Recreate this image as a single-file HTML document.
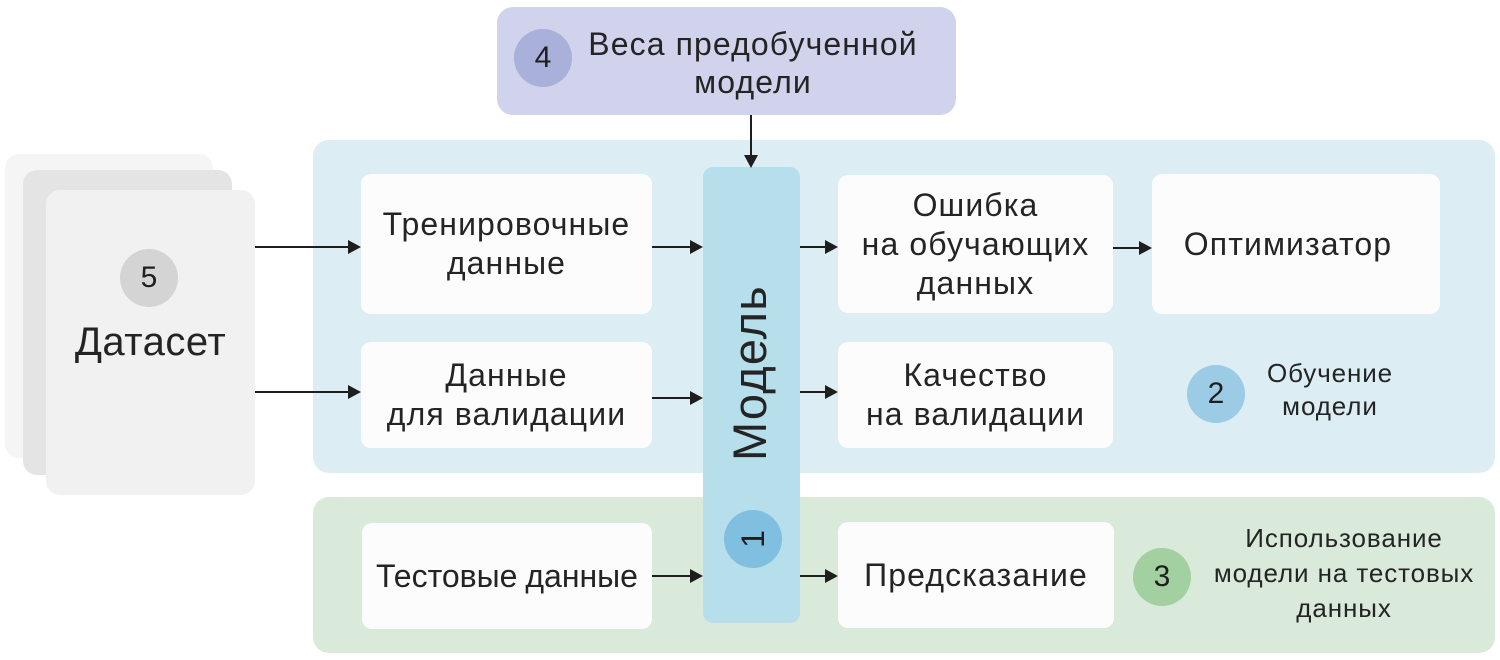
<!DOCTYPE html>
<html>
<head>
<meta charset="utf-8">
<style>
  html,body{margin:0;padding:0;}
  body{width:1500px;height:660px;background:#ffffff;position:relative;overflow:hidden;
       font-family:"Liberation Sans","Noto Sans CJK SC",sans-serif;color:#242424;}
  .abs{position:absolute;}
  .panel{position:absolute;border-radius:16px;}
  .box{position:absolute;background:#fcfcfc;border-radius:10px;display:flex;align-items:center;justify-content:center;
       text-align:center;font-size:32px;line-height:39px;letter-spacing:1.1px;}
  .circ{position:absolute;border-radius:50%;width:58px;height:58px;display:flex;align-items:center;justify-content:center;
        font-size:30px;color:#1e1e1e;}
  .card{position:absolute;border-radius:14px;}
  .lbl{position:absolute;text-align:center;font-size:26px;letter-spacing:0.9px;}
</style>
</head>
<body>

<!-- Dataset stack -->
<div class="card" style="left:5px;top:154px;width:208px;height:304px;background:#f5f5f5;"></div>
<div class="card" style="left:23px;top:170px;width:209px;height:305px;background:#e4e4e4;"></div>
<div class="card" style="left:46px;top:190px;width:209px;height:305px;background:#f1f1f1;"></div>
<div class="circ" style="left:120px;top:249px;background:#d4d4d4;">5</div>
<div class="abs" style="left:46px;top:318px;width:209px;text-align:center;font-size:40px;line-height:48px;letter-spacing:0.5px;">Датасет</div>

<!-- Weights box -->
<div class="panel" style="left:497px;top:7px;width:459px;height:108px;background:#d0d3eb;"></div>
<div class="circ" style="left:514px;top:29px;background:#a9b0da;">4</div>
<div class="abs" style="left:553px;top:25px;width:400px;text-align:center;font-size:32px;line-height:38px;letter-spacing:1.1px;">Веса предобученной<br>модели</div>

<!-- Blue panel -->
<div class="panel" style="left:313px;top:140px;width:1182px;height:333px;background:#dceef4;"></div>
<!-- Green panel -->
<div class="panel" style="left:313px;top:497px;width:1182px;height:156px;background:#d9e9da;"></div>

<!-- Boxes -->
<div class="box" style="left:361px;top:174px;width:291px;height:140px;">Тренировочные<br>данные</div>
<div class="box" style="left:361px;top:342px;width:291px;height:106px;">Данные<br>для валидации</div>
<div class="box" style="left:838px;top:175px;width:275px;height:138px;">Ошибка<br>на обучающих<br>данных</div>
<div class="box" style="left:1152px;top:174px;width:288px;height:140px;padding-right:16px;box-sizing:border-box;">Оптимизатор</div>
<div class="box" style="left:838px;top:342px;width:275px;height:106px;">Качество<br>на валидации</div>
<div class="box" style="left:362px;top:523px;width:290px;height:106px;letter-spacing:0;word-spacing:-1px;">Тестовые данные</div>
<div class="box" style="left:838px;top:522px;width:276px;height:106px;">Предсказание</div>

<!-- Model bar -->
<div class="abs" style="left:703px;top:167px;width:97px;height:456px;background:#b6deeb;border-radius:10px;"></div>
<div class="abs" style="left:600px;top:348px;width:300px;height:50px;line-height:50px;text-align:center;font-size:47px;letter-spacing:1.2px;transform:rotate(-90deg);transform-origin:150px 25px;">Модель</div>
<div class="circ" style="left:724px;top:510px;background:#80bfdf;transform:rotate(-90deg);font-size:32px;">1</div>

<!-- Label 2 -->
<div class="circ" style="left:1187px;top:365px;background:#9ccbe5;">2</div>
<div class="lbl" style="left:1230px;top:357px;width:200px;line-height:33px;">Обучение<br>модели</div>

<!-- Label 3 -->
<div class="circ" style="left:1133px;top:548px;background:#a3d0a0;">3</div>
<div class="lbl" style="left:1204px;top:521px;width:280px;line-height:35px;">Использование<br>модели на тестовых<br>данных</div>

<!-- Arrows -->
<svg class="abs" style="left:0;top:0;" width="1500" height="660" viewBox="0 0 1500 660">
  <g stroke="#1e1e1e" stroke-width="2" fill="none">
    <line x1="255" y1="247" x2="350" y2="247"/>
    <line x1="255" y1="392" x2="350" y2="392"/>
    <line x1="652" y1="247" x2="692" y2="247"/>
    <line x1="652" y1="398" x2="692" y2="398"/>
    <line x1="800" y1="247" x2="826" y2="247"/>
    <line x1="800" y1="392" x2="826" y2="392"/>
    <line x1="1113" y1="248" x2="1140" y2="248"/>
    <line x1="652" y1="576" x2="692" y2="576"/>
    <line x1="800" y1="576" x2="826" y2="576"/>
    <line x1="751" y1="115" x2="751" y2="155"/>
  </g>
  <g fill="#1e1e1e">
    <polygon points="361,247 348,240 348,254"/>
    <polygon points="361,392 348,385 348,399"/>
    <polygon points="703,247 690,240 690,254"/>
    <polygon points="703,398 690,391 690,405"/>
    <polygon points="838,247 825,240 825,254"/>
    <polygon points="838,392 825,385 825,399"/>
    <polygon points="1152,248 1139,241 1139,255"/>
    <polygon points="703,576 690,569 690,583"/>
    <polygon points="838,576 825,569 825,583"/>
    <polygon points="751,168 744,155 758,155"/>
  </g>
</svg>

</body>
</html>
